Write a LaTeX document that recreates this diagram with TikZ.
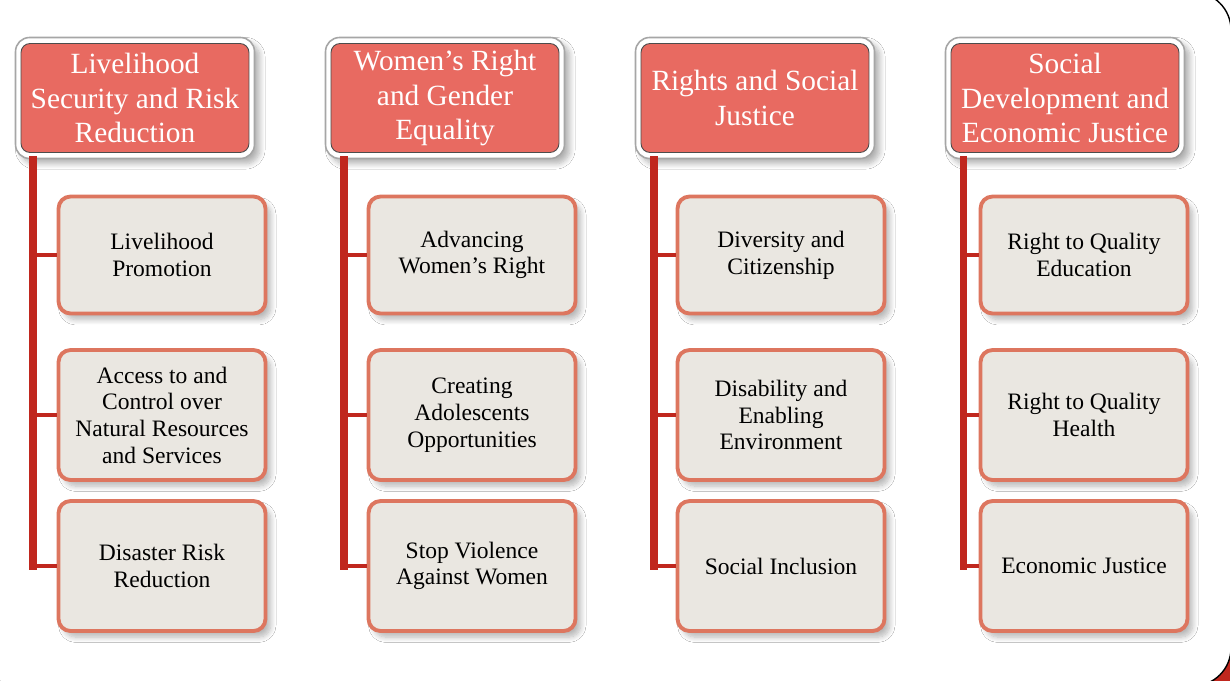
\documentclass[tikz,border=0pt]{standalone}
\usepackage{fontspec}
\setmainfont{Liberation Serif}
\usepackage{tikz}
\usetikzlibrary{shadows.blur}

\definecolor{headred}{HTML}{E86A61}
\definecolor{boxfill}{HTML}{EAE7E1}
\definecolor{boxedge}{HTML}{DD765F}
\definecolor{barred}{HTML}{C0271E}

\begin{document}
\begin{tikzpicture}[x=0.02cm, y=-0.02cm,
    hdframe/.style={draw=gray!70, line width=0.9pt, fill=white, rounded corners=0.28cm,
        minimum width=4.78cm, minimum height=2.42cm,
        blur shadow={shadow xshift=3pt, shadow yshift=-3pt, shadow opacity=30,
            shadow blur steps=8, shadow blur radius=3pt}},
    hdbox/.style={draw=gray!60!black, line width=0.5pt, fill=headred, rounded corners=0.18cm,
        minimum width=4.56cm, minimum height=2.18cm, inner sep=0pt,
        text=white, align=center, font=\fontsize{16.7}{19.8}\selectfont},
    topic/.style={draw=boxedge, line width=2.2pt, fill=boxfill, rounded corners=0.24cm,
        minimum width=4.14cm, inner sep=0pt, align=center, font=\fontsize{13.4}{15.2}\selectfont,
        blur shadow={shadow xshift=3pt, shadow yshift=-3.5pt, shadow opacity=28,
            shadow blur steps=8, shadow blur radius=3pt}},
    toprow/.style={minimum height=2.34cm},
    lowrow/.style={minimum height=2.6cm},
    trunk/.style={draw=barred, line width=4pt, line cap=rect},
    twig/.style={draw=barred, line width=2pt}]
    \useasboundingbox (0,0) rectangle (1230,680);

    % Page frame
    \fill[barred] (1190,640) rectangle (1240,700);
    \draw[fill=white, line width=0.8pt, rounded corners=0.76cm] (-20,-8) rectangle (1231,686);

    % Headers
    \node[hdframe] (lf) at (135,98) {};
    \node[hdbox] (lh) at (lf) {Livelihood\\Security and Risk\\Reduction};
    \node[hdframe] (wf) at (445,98) {};
    \node[hdbox] (wh) at (wf) {Women's Right\\and Gender\\Equality};
    \node[hdframe] (rf) at (755,98) {};
    \node[hdbox] (rh) at (rf) {Rights and Social\\Justice};
    \node[hdframe] (sf) at (1065,98) {};
    \node[hdbox] (sh) at (sf) {Social\\Development and\\Economic Justice};

    % Livelihood
    \node[topic, toprow] (l1) at (162,255) {Livelihood\\Promotion};
    \node[topic, lowrow] (l2) at (162,415) {Access to and\\Control over\\Natural Resources\\and Services};
    \node[topic, lowrow] (l3) at (162,566) {Disaster Risk\\Reduction};

    % Women
    \node[topic, toprow] (w1) at (472,255) {Advancing\\Women's Right};
    \node[topic, lowrow] (w2) at (472,415) {Creating\\Adolescents\\Opportunities};
    \node[topic, lowrow] (w3) at (472,566) {Stop Violence\\Against Women};

    % Rights
    \node[topic, toprow] (r1) at (781,255) {Diversity and\\Citizenship};
    \node[topic, lowrow] (r2) at (781,415) {Disability and\\Enabling\\Environment};
    \node[topic, lowrow] (r3) at (781,566) {Social Inclusion};

    % Social
    \node[topic, toprow] (s1) at (1084,255) {Right to Quality\\Education};
    \node[topic, lowrow] (s2) at (1084,415) {Right to Quality\\Health};
    \node[topic, lowrow] (s3) at (1084,566) {Economic Justice};

    % Connectors
    \foreach \col/\x in {l/33, w/344, r/654, s/963} {
        \coordinate (\col t) at (\x,160);
        \draw[trunk] (\col t) -- (\col t |- \col3.west);
        \draw[twig] (\col1.west) -- (\col1.west -| \col t);
        \draw[twig] (\col2.west) -- (\col2.west -| \col t);
        \draw[twig] (\col3.west) -- (\col3.west -| \col t);
    }
\end{tikzpicture}
\end{document}
